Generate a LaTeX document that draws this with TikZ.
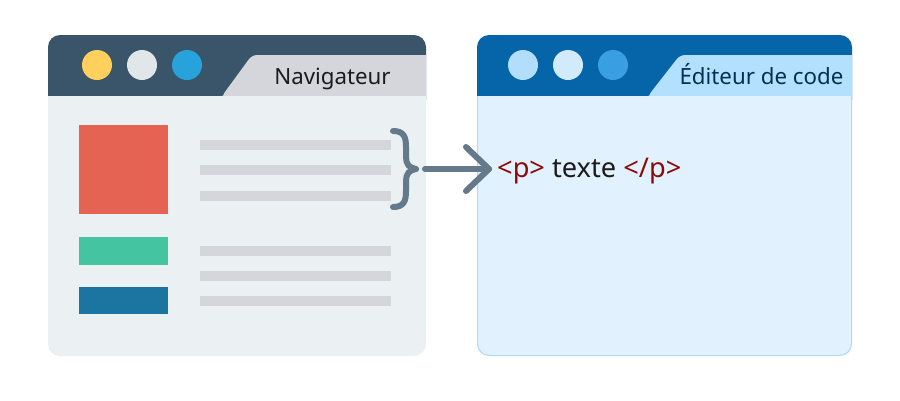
\documentclass[tikz,border=0pt]{standalone}
\usepackage{fontspec}
\setmainfont{Noto Sans}
\definecolor{lbar}{HTML}{3A556A}
\definecolor{lbody}{HTML}{EBF0F3}
\definecolor{ltab}{HTML}{D5D6DB}
\definecolor{ldark}{HTML}{1C1A1B}
\definecolor{cyel}{HTML}{FFD15C}
\definecolor{cgry}{HTML}{E1E6E9}
\definecolor{cblu}{HTML}{27A2DB}
\definecolor{bred}{HTML}{E56353}
\definecolor{bgrn}{HTML}{44C4A1}
\definecolor{bblu}{HTML}{1B75A0}
\definecolor{rbar}{HTML}{0565A8}
\definecolor{rbody}{HTML}{E1F1FD}
\definecolor{rtab}{HTML}{B3E0FC}
\definecolor{rborder}{HTML}{B3DBF5}
\definecolor{rc1}{HTML}{B3DEFB}
\definecolor{rc2}{HTML}{D2EBFC}
\definecolor{rc3}{HTML}{3A9EE3}
\definecolor{rtext}{HTML}{06304F}
\definecolor{tagred}{HTML}{8B0A0A}
\definecolor{conn}{HTML}{64798A}
\tikzset{
  dot/.style={circle,inner sep=0pt,minimum size=30pt},
  txtline/.style={fill=ltab},
  tabtext/.style={font=\fontsize{22.3}{26}\selectfont,inner sep=0pt,anchor=base},
  connline/.style={draw=conn,line width=6pt,line cap=round,line join=round}
}
\begin{document}
\begin{tikzpicture}[x=1pt,y=-1pt]
\useasboundingbox (0,0) rectangle (900,400);
\fill[white] (0,0) rectangle (900,400);
% ---- left window
\begin{scope}
\clip[rounded corners=12pt] (48,35) rectangle (426,356);
\fill[lbar] (40,30) rectangle (430,100);
\fill[ltab,rounded corners=5pt] (222,100) -- (222,96) -- (252,55) -- (440,55) -- (440,100) -- cycle;
\fill[lbody] (40,96) rectangle (430,360);
\end{scope}
\node[dot,fill=cyel] (l1) at (97,65) {};
\node[dot,fill=cgry] (l2) at (142,65) {};
\node[dot,fill=cblu] (l3) at (187,65) {};
\node[tabtext,text=ldark] (ltitle) at (332.5,84) {Navigateur};
\fill[bred] (79,125) rectangle (168,214);
\fill[bgrn] (79,237) rectangle (168,265);
\fill[bblu] (79,287) rectangle (168,314);
\foreach \y in {140,165,191,246,271,296}{
  \fill[txtline] (200,\y) rectangle (391,\y+10);
}
% ---- right window
\begin{scope}
\clip[rounded corners=12pt] (477,35) rectangle (852,356);
\fill[rbar] (470,30) rectangle (860,100);
\fill[rtab,rounded corners=5pt] (648,100) -- (648,96) -- (680,55) -- (870,55) -- (870,100) -- cycle;
\fill[rbody] (470,96) rectangle (860,360);
\end{scope}
\draw[rborder,line width=1pt,rounded corners=12pt] (477.5,96) -- (477.5,355.5) -- (851.5,355.5) -- (851.5,96);
\node[dot,fill=rc1] (r1) at (523,65) {};
\node[dot,fill=rc2] (r2) at (568,65) {};
\node[dot,fill=rc3] (r3) at (613,65) {};
\node[tabtext,text=rtext] (rtitle) at (761.5,84) {Éditeur de code};
% ---- code text
\node[anchor=base west,inner sep=0pt,font=\fontsize{27.2}{32}\selectfont] (code) at (497,177)
  {\textcolor{tagred}{<p>} \textcolor{ldark}{texte} \textcolor{tagred}{</p>}};
% ---- brace and arrow
\draw[connline] (393,131) .. controls (404,131) and (406,137) .. (406,147) -- (406,157) .. controls (406,164) and (409,168) .. (416,169) .. controls (409,170) and (406,174) .. (406,181) -- (406,191) .. controls (406,201) and (404,207) .. (393,207);
\coordinate (bracetip) at (425,169);
\coordinate (arrowend) at (489,169);
\draw[connline] (bracetip) -- (arrowend);
\draw[connline] (466,147) -- (arrowend) -- (466,191);
\end{tikzpicture}
\end{document}
